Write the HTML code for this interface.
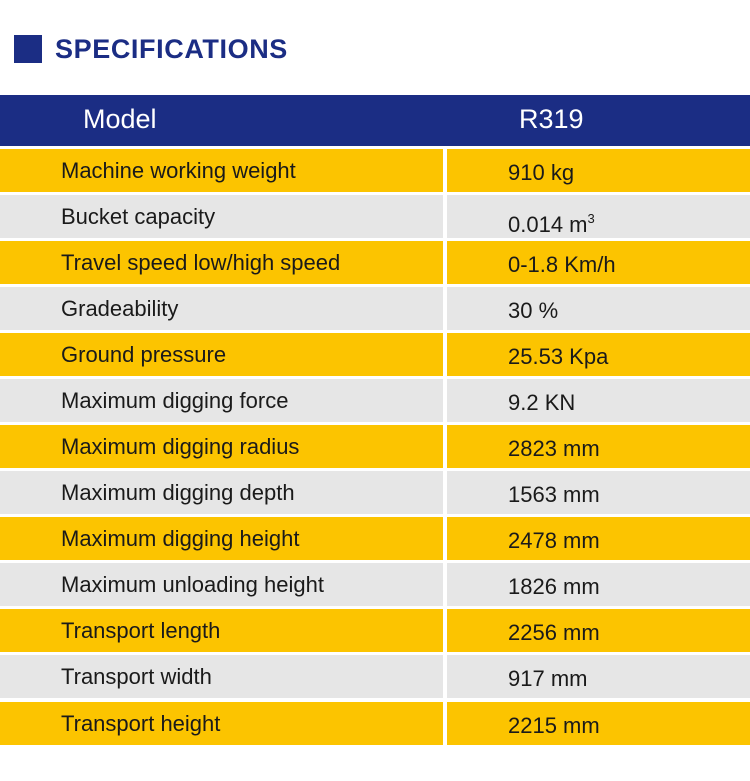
<!DOCTYPE html>
<html><head><style>
body{margin:0;width:750px;height:781px;background:#fff;position:relative;overflow:hidden;font-family:"Liberation Sans",sans-serif;}
.sq{position:absolute;left:14px;top:35px;width:28px;height:28px;background:#1b2d84;}
.title{position:absolute;left:55px;top:32px;font-size:27px;font-weight:bold;color:#1b2d84;letter-spacing:0.6px;line-height:34px;}
.hdr{position:absolute;left:0;top:95px;width:750px;height:51px;background:#1b2d84;color:#fff;font-size:27px;}
.hdr span{position:absolute;top:9px;}
.row{position:absolute;left:0;width:750px;height:43px;font-size:22px;color:#1a1a1a;}
.l,.r{position:absolute;top:0;height:43px;line-height:43px;}
.l{left:0;width:443px;padding-left:61px;box-sizing:border-box;}
.r{left:447px;width:303px;padding-left:61px;box-sizing:border-box;line-height:48px;}
.y .l,.y .r{background:#fcc400;}
.g .l,.g .r{background:#e6e6e6;}
sup{font-size:13px;vertical-align:9px;}
</style></head><body>
<div class="sq"></div><div class="title">SPECIFICATIONS</div>
<div class="hdr"><span style="left:83px">Model</span><span style="left:519px">R319</span></div>
<div class="row y" style="top:149px"><div class="l">Machine working weight</div><div class="r">910 kg</div></div>
<div class="row g" style="top:195px"><div class="l">Bucket capacity</div><div class="r">0.014 m<sup>3</sup></div></div>
<div class="row y" style="top:241px"><div class="l">Travel speed low/high speed</div><div class="r">0-1.8 Km/h</div></div>
<div class="row g" style="top:287px"><div class="l">Gradeability</div><div class="r">30 %</div></div>
<div class="row y" style="top:333px"><div class="l">Ground pressure</div><div class="r">25.53 Kpa</div></div>
<div class="row g" style="top:379px"><div class="l">Maximum digging force</div><div class="r">9.2 KN</div></div>
<div class="row y" style="top:425px"><div class="l">Maximum digging radius</div><div class="r">2823 mm</div></div>
<div class="row g" style="top:471px"><div class="l">Maximum digging depth</div><div class="r">1563 mm</div></div>
<div class="row y" style="top:517px"><div class="l">Maximum digging height</div><div class="r">2478 mm</div></div>
<div class="row g" style="top:563px"><div class="l">Maximum unloading height</div><div class="r">1826 mm</div></div>
<div class="row y" style="top:609px"><div class="l">Transport length</div><div class="r">2256 mm</div></div>
<div class="row g" style="top:655px"><div class="l">Transport width</div><div class="r">917 mm</div></div>
<div class="row y" style="top:702px"><div class="l">Transport height</div><div class="r">2215 mm</div></div>
</body></html>
